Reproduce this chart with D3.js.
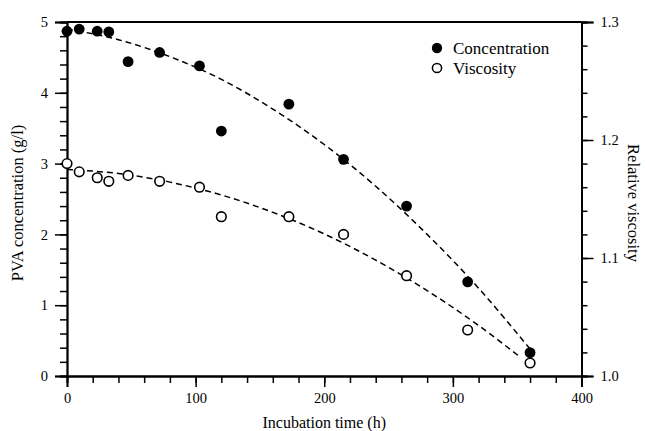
<!DOCTYPE html>
<html>
<head>
<meta charset="utf-8">
<script src="https://cdn.jsdelivr.net/npm/d3@7/dist/d3.min.js"></script>
<style>
  html, body { margin: 0; padding: 0; background: #fff; }
  svg { display: block; }
  text { font-family: "Liberation Serif", "Times New Roman", serif; fill: #000; }
</style>
</head>
<body>
<svg id="chart" width="645" height="431"></svg>
<script>
// Incubation time (h) of each sample
const times = [0, 9.5, 23.5, 32.5, 47.5, 72, 103, 120, 172.5, 215, 264, 311.5, 360];
// PVA concentration (g/l), left axis
const concentration = [4.87, 4.90, 4.87, 4.86, 4.44, 4.57, 4.38, 3.46, 3.84, 3.06, 2.40, 1.33, 0.33];
// Relative viscosity, right axis
const viscosity = [1.180, 1.173, 1.168, 1.165, 1.170, 1.165, 1.160, 1.135, 1.135, 1.120, 1.085, 1.039, 1.011];

// Fitted trend curves (dashed)
const concFitTimes = [0, 40, 80, 120, 160, 200, 240, 280, 320, 360];
const concFit = [4.90, 4.75, 4.51, 4.19, 3.77, 3.27, 2.68, 2.00, 1.24, 0.38];
const viscFitTimes = [0, 40, 80, 120, 160, 200, 240, 280, 320, 353];
const viscFit = [1.175, 1.1716, 1.1643, 1.1534, 1.1387, 1.1204, 1.0982, 1.0724, 1.0428, 1.0155];

// Tick values
const xMajor = [0, 100, 200, 300, 400];
const xMinor = d3.range(0, 401, 20);
const yLeftMajor = [0, 1, 2, 3, 4, 5];
const yLeftMinor = d3.range(0, 5.001, 0.2);
const yRightMajor = [1.0, 1.1, 1.2, 1.3];
const yRightMinor = d3.range(1.0, 1.3001, 0.02);

const legendLabels = ["Concentration", "Viscosity"];

const svg = d3.select("#chart");
const plotLeft = 67, plotRight = 581.5, plotTop = 22, plotBottom = 376;

const x = d3.scaleLinear().domain([0, 400]).range([plotLeft, plotRight]);
const yL = d3.scaleLinear().domain([0, 5]).range([plotBottom, plotTop]);
const yR = d3.scaleLinear().domain([1.0, 1.3]).range([plotBottom, plotTop]);

const tickFont = 14.5;

function styleAxis(g) {
  g.select(".domain").attr("stroke", "#000").attr("stroke-width", 1.8);
  g.selectAll(".tick line").attr("stroke", "#000").attr("stroke-width", 1.5);
  g.selectAll(".tick text").attr("font-size", tickFont)
    .attr("font-family", "Liberation Serif, serif").attr("fill", "#000");
}

// Minor ticks first
svg.append("g").attr("transform", `translate(0,${plotBottom})`)
  .call(d3.axisBottom(x).tickValues(xMinor).tickSize(7).tickFormat(""))
  .call(styleAxis);
svg.append("g").attr("transform", `translate(${plotLeft},0)`)
  .call(d3.axisLeft(yL).tickValues(yLeftMinor).tickSize(7).tickFormat(""))
  .call(styleAxis);
svg.append("g").attr("transform", `translate(${plotRight},0)`)
  .call(d3.axisRight(yR).tickValues(yRightMinor).tickSize(6).tickFormat(""))
  .call(styleAxis);

// Major ticks with labels
svg.append("g").attr("transform", `translate(0,${plotBottom})`)
  .call(d3.axisBottom(x).tickValues(xMajor).tickSize(11).tickPadding(6).tickFormat(d3.format("d")))
  .call(styleAxis);
svg.append("g").attr("transform", `translate(${plotLeft},0)`)
  .call(d3.axisLeft(yL).tickValues(yLeftMajor).tickSize(12).tickPadding(7).tickFormat(d3.format("d")))
  .call(styleAxis);
svg.append("g").attr("transform", `translate(${plotRight},0)`)
  .call(d3.axisRight(yR).tickValues(yRightMajor).tickSize(12).tickPadding(7).tickFormat(d3.format(".1f")))
  .call(styleAxis);

// Top frame line
svg.append("line")
  .attr("x1", plotLeft).attr("x2", plotRight).attr("y1", plotTop).attr("y2", plotTop)
  .attr("stroke", "#000").attr("stroke-width", 1.8);

// Dashed fitted curves
const concLine = d3.line().x((d, i) => x(concFitTimes[i])).y(d => yL(d)).curve(d3.curveMonotoneX);
const viscLine = d3.line().x((d, i) => x(viscFitTimes[i])).y(d => yR(d)).curve(d3.curveMonotoneX);

svg.append("path").datum(concFit).attr("d", concLine)
  .attr("fill", "none").attr("stroke", "#000").attr("stroke-width", 1.5)
  .attr("stroke-dasharray", "6,4");
svg.append("path").datum(viscFit).attr("d", viscLine)
  .attr("fill", "none").attr("stroke", "#000").attr("stroke-width", 1.5)
  .attr("stroke-dasharray", "6,4");

// Markers
svg.append("g").selectAll("circle").data(concentration).join("circle")
  .attr("cx", (d, i) => x(times[i])).attr("cy", d => yL(d)).attr("r", 5.4)
  .attr("fill", "#000");
svg.append("g").selectAll("circle").data(viscosity).join("circle")
  .attr("cx", (d, i) => x(times[i])).attr("cy", d => yR(d)).attr("r", 4.8)
  .attr("fill", "#fff").attr("stroke", "#000").attr("stroke-width", 1.6);

// Legend
const legend = svg.append("g").attr("transform", "translate(437,48)");
legend.append("circle").attr("cx", 0).attr("cy", 0).attr("r", 5.2).attr("fill", "#000");
legend.append("circle").attr("cx", 0).attr("cy", 20).attr("r", 4.6)
  .attr("fill", "#fff").attr("stroke", "#000").attr("stroke-width", 1.5);
legend.selectAll("text").data(legendLabels).join("text")
  .attr("x", 16).attr("y", (d, i) => i * 20 + 5.5)
  .attr("font-size", 17).text(d => d);

// Axis titles
svg.append("text")
  .attr("x", (plotLeft + plotRight) / 2).attr("y", 428)
  .attr("text-anchor", "middle").attr("font-size", 16)
  .text("Incubation time (h)");
svg.append("text")
  .attr("transform", "translate(23,203) rotate(-90)")
  .attr("text-anchor", "middle").attr("font-size", 16.5)
  .text("PVA concentration (g/l)");
svg.append("text")
  .attr("transform", "translate(628,203) rotate(90)")
  .attr("text-anchor", "middle").attr("font-size", 16.5)
  .text("Relative viscosity");
</script>
</body>
</html>
